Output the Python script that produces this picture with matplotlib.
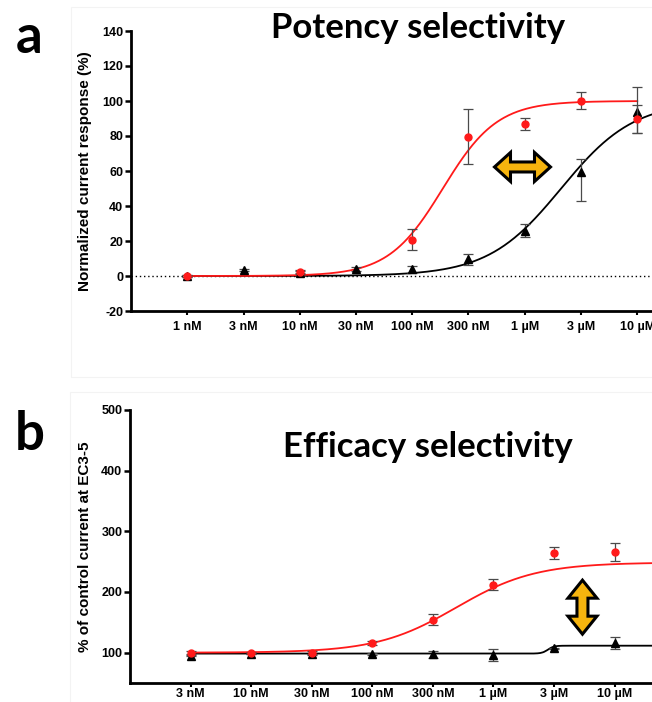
import numpy as np
import matplotlib
matplotlib.use('Agg')
import matplotlib.pyplot as plt
from matplotlib.patches import Polygon, Rectangle
from matplotlib.transforms import ScaledTranslation

plt.rcParams['font.family'] = ['Liberation Sans', 'DejaVu Sans']

nan = np.nan

# ---------------- Panel a : potency selectivity ----------------
a_doses = ['1 nM', '3 nM', '10 nM', '30 nM', '100 nM', '300 nM', '1 µM', '3 µM', '10 µM']
a_red = [0.0, nan, 2.5, nan, 20.6, 79.6, 86.9, 100.2, 89.7]
a_red_err_lo = [0.5, nan, 1.0, nan, 6.0, 15.7, 3.5, 5.0, 8.0]
a_red_err_hi = [0.5, nan, 1.0, nan, 6.0, 15.7, 3.5, 5.0, 8.0]
a_black = [0.0, 3.4, 2.0, 4.0, 4.0, 9.5, 26.0, 59.5, 94.0]
a_black_err_lo = [0.5, 0.5, 1.0, 1.0, 2.0, 3.0, 3.5, 16.5, 12.0]
a_black_err_hi = [0.5, 0.5, 1.0, 1.0, 2.0, 3.0, 3.5, 7.5, 14.0]
a_yticks = [-20, 0, 20, 40, 60, 80, 100, 120, 140]
# fitted sigmoid parameters (bottom, top, midpoint in tick units, slope)
a_red_fit = (0.0, 100.0, 4.544, 2.069)
a_black_fit = (0.0, 100.0, 6.646, 1.54)

# ---------------- Panel b : efficacy selectivity ----------------
b_doses = ['3 nM', '10 nM', '30 nM', '100 nM', '300 nM', '1 µM', '3 µM', '10 µM']
b_red = [100.0, 99.5, 100.0, 116.0, 154.0, 212.0, 264.0, 266.0]
b_red_err = [2.0, 2.0, 2.0, 3.0, 9.0, 9.0, 10.0, 15.0]
b_black = [95.0, 98.0, 97.0, 98.0, 97.0, 96.0, 107.0, 116.0]
b_black_err = [1.0, 1.0, 1.0, 2.0, 6.0, 10.0, 1.0, 10.0]
b_yticks = [100, 200, 300, 400, 500]
b_red_fit = (100.0, 248.6, 4.384, 1.53)
b_black_fit = (98.5, 111.5, 5.9, 20.0)


def sigmoid(x, p):
    bottom, top, mid, k = p
    return bottom + (top - bottom) / (1.0 + np.exp(-k * (x - mid)))


W, H = 652, 702
fig = plt.figure(figsize=(W / 100, H / 100), dpi=100)


def px_axes(left, top, right, bottom):
    return fig.add_axes([left / W, 1 - bottom / H, (right - left) / W, (bottom - top) / H])


ERR_COL = '#4a4a4a'
RED = '#ff1a1a'
GOLD = '#f6b40e'


def style_axes(ax, xpad=4):
    for s in ['top', 'right']:
        ax.spines[s].set_visible(False)
    for s in ['left', 'bottom']:
        ax.spines[s].set_linewidth(2.0)
    ax.tick_params(axis='y', length=4, width=1.8, pad=1.5)
    ax.tick_params(axis='x', length=3, width=1.5, pad=xpad)
    for lab in ax.get_xticklabels() + ax.get_yticklabels():
        lab.set_fontsize(9)
        lab.set_fontweight('bold')


def double_arrow(ax, cx, cy, length, body, head_w, head_l, vertical=False):
    L2, b2, h2 = length / 2, body / 2, head_w / 2
    pts = [(-L2, 0), (-L2 + head_l, h2), (-L2 + head_l, b2), (L2 - head_l, b2),
           (L2 - head_l, h2), (L2, 0), (L2 - head_l, -h2), (L2 - head_l, -b2),
           (-L2 + head_l, -b2), (-L2 + head_l, -h2)]
    if vertical:
        pts = [(y, x) for x, y in pts]
    pts = [(x / 100, y / 100) for x, y in pts]
    tr = fig.dpi_scale_trans + ScaledTranslation(cx, cy, ax.transData)
    poly = Polygon(pts, closed=True, facecolor=GOLD, edgecolor='black', linewidth=2.2,
                   joinstyle='miter', transform=tr, zorder=6, clip_on=False)
    ax.add_patch(poly)


# faint panel frames
fig.add_artist(Rectangle((71 / W, 1 - 377 / H), 600 / W, 370 / H, transform=fig.transFigure,
                         fill=False, edgecolor='#f3f3f3', linewidth=0.8))
fig.add_artist(Rectangle((70 / W, 1 - 720 / H), 600 / W, 328 / H, transform=fig.transFigure,
                         fill=False, edgecolor='#f3f3f3', linewidth=0.8))

# ---------------- draw panel a ----------------
axa = px_axes(131, 31, 131 + 10 * 56.25, 311)
xa = np.arange(len(a_doses))
axa.set_xlim(-1, 9)
axa.set_ylim(-20, 140)
axa.axhline(0, color='black', linestyle=(0, (1, 2)), linewidth=1.0, zorder=1)

xb_curve = np.linspace(0, 9, 400)
axa.plot(xb_curve, sigmoid(xb_curve, a_black_fit), color='black', lw=1.3, zorder=3)
xr_curve = np.linspace(0, 8, 400)
axa.plot(xr_curve, sigmoid(xr_curve, a_red_fit), color=RED, lw=1.3, zorder=3)

axa.errorbar(xa, a_black, yerr=[a_black_err_lo, a_black_err_hi], fmt='^', color='black',
             ms=6, ecolor=ERR_COL, elinewidth=0.9, capsize=3.5, capthick=0.9, zorder=4)
axa.errorbar(xa, a_red, yerr=[a_red_err_lo, a_red_err_hi], fmt='o', color=RED,
             ms=5, ecolor=ERR_COL, elinewidth=0.9, capsize=3.5, capthick=0.9, zorder=5)

axa.set_xticks(xa)
axa.set_xticklabels(a_doses)
axa.set_yticks(a_yticks)
axa.set_yticklabels([str(v) for v in a_yticks])
axa.set_ylabel('Normalized current response (%)', fontsize=11, fontweight='bold')
axa.yaxis.set_label_coords(-0.069, 0.5)
style_axes(axa, xpad=4)
double_arrow(axa, 5.96, 62.3, 56, 10, 29, 16)

# ---------------- draw panel b ----------------
axb = px_axes(130, 410, 130 + 9.5 * 60.57, 683)
xbp = np.arange(len(b_doses))
axb.set_xlim(-1, 8.5)
axb.set_ylim(50, 500)

xc = np.linspace(0, 8.5, 400)
axb.plot(xc, sigmoid(xc, b_black_fit), color='black', lw=1.3, zorder=3)
axb.plot(xc, sigmoid(xc, b_red_fit), color=RED, lw=1.3, zorder=3)

axb.errorbar(xbp, b_black, yerr=b_black_err, fmt='^', color='black',
             ms=6, ecolor=ERR_COL, elinewidth=0.9, capsize=3.5, capthick=0.9, zorder=4)
axb.errorbar(xbp, b_red, yerr=b_red_err, fmt='o', color=RED,
             ms=5, ecolor=ERR_COL, elinewidth=0.9, capsize=3.5, capthick=0.9, zorder=5)

axb.set_xticks(xbp)
axb.set_xticklabels(b_doses)
axb.set_yticks(b_yticks)
axb.set_yticklabels([str(v) for v in b_yticks])
axb.set_ylabel('% of control current at EC3-5', fontsize=11, fontweight='bold')
axb.yaxis.set_label_coords(-0.066, 0.5)
style_axes(axb, xpad=0.8)
double_arrow(axb, 6.47, 175, 54, 11, 29, 18, vertical=True)

# ---------------- titles and panel letters ----------------
title_font = dict(family=['Lato', 'DejaVu Sans'], fontweight='bold', fontsize=25)
fig.text(418.5 / W, 1 - 38 / H, 'Potency selectivity', ha='center', va='baseline', **title_font)
fig.text(427.5 / W, 1 - 457 / H, 'Efficacy selectivity', ha='center', va='baseline', **title_font)
letter_font = dict(family=['Lato', 'DejaVu Sans'], fontweight='bold', fontsize=38)
fig.text(16 / W, 1 - 53 / H, 'a', ha='left', va='baseline', **letter_font)
fig.text(15 / W, 1 - 450 / H, 'b', ha='left', va='baseline', **letter_font)

fig.savefig('out.png', dpi=100)
